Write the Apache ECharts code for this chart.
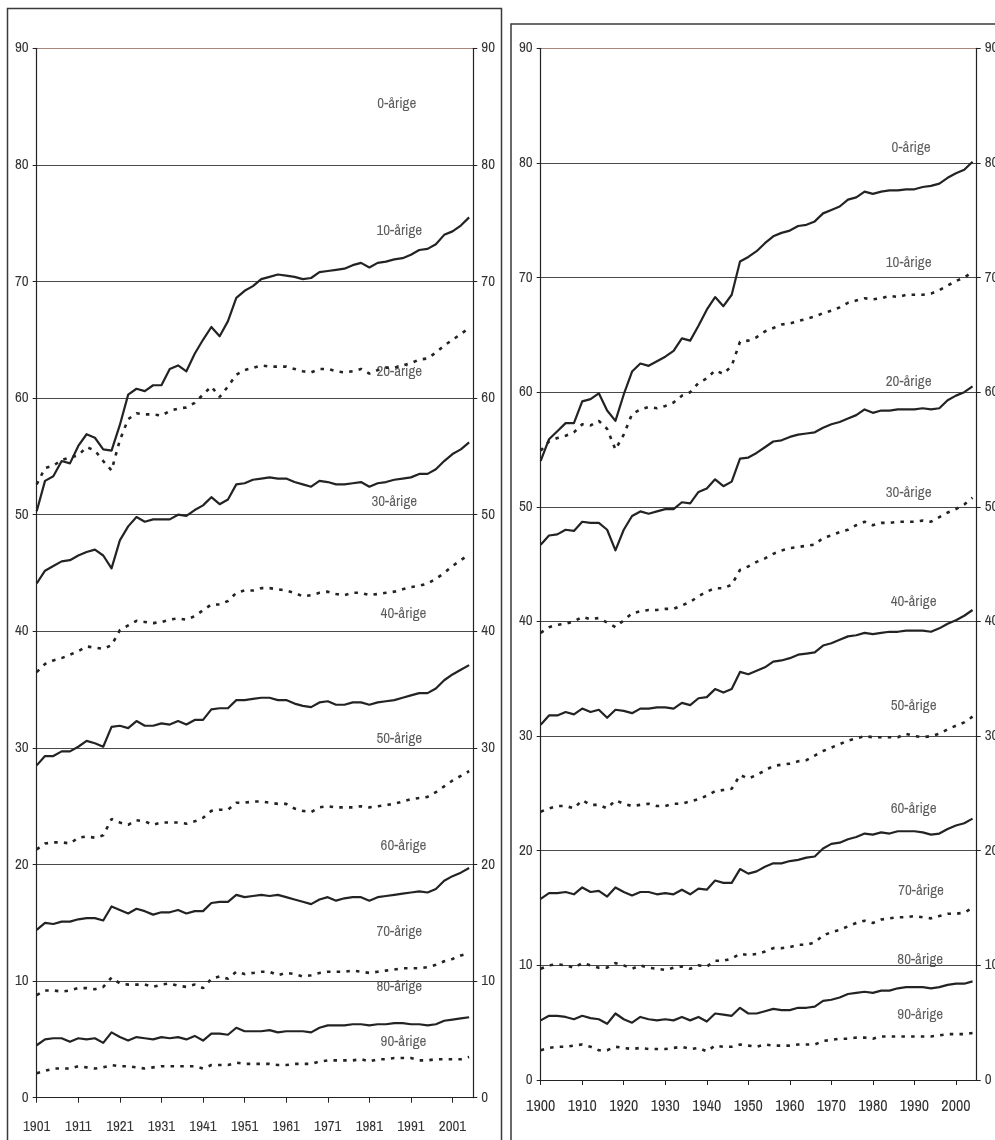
<!DOCTYPE html>
<html>
<head>
<meta charset="utf-8">
<title>Restlebensdauer</title>
<script src="https://cdn.jsdelivr.net/npm/echarts@6/dist/echarts.min.js"></script>
<style>
  html, body { margin: 0; padding: 0; background: #fff; }
  #chart { width: 995px; height: 1140px; }
</style>
</head>
<body>
<div id="chart"></div>
<script>
// ---- data: remaining life expectancy, sampled every second year ----
const ageLabels = ['0-årige', '10-årige', '20-årige', '30-årige', '40-årige',
                   '50-årige', '60-årige', '70-årige', '80-årige', '90-årige'];

// left panel
const yearsLeft = [1901,1903,1905,1907,1909,1911,1913,1915,1917,1919,1921,1923,1925,1927,1929,1931,1933,1935,
  1937,1939,1941,1943,1945,1947,1949,1951,1953,1955,1957,1959,1961,1963,1965,1967,1969,1971,1973,1975,
  1977,1979,1981,1983,1985,1987,1989,1991,1993,1995,1997,1999,2001,2003,2005];
const ticksLeft = [1901,1911,1921,1931,1941,1951,1961,1971,1981,1991,2001];

const leftAge0 = [50.3,52.9,53.3,54.6,54.4,55.9,56.9,56.6,55.6,55.5,57.7,60.3,60.8,60.6,61.1,61.1,62.5,62.8,
  62.3,63.8,65.0,66.1,65.3,66.6,68.6,69.2,69.6,70.2,70.4,70.6,70.5,70.4,70.2,70.3,70.8,70.9,71.0,71.1,
  71.4,71.6,71.2,71.6,71.7,71.9,72.0,72.3,72.7,72.8,73.2,74.0,74.3,74.8,75.5];
const leftAge10 = [52.6,54.0,54.2,54.7,54.9,55.1,55.8,55.5,54.6,53.8,56.4,58.2,58.7,58.6,58.6,58.5,58.9,59.1,
  59.2,59.6,60.3,61.0,60.1,61.0,62.0,62.4,62.6,62.8,62.7,62.7,62.7,62.5,62.3,62.2,62.5,62.5,62.3,62.2,
  62.3,62.5,62.1,62.4,62.6,62.6,62.8,63.0,63.3,63.4,63.9,64.5,65.0,65.5,66.0];
const leftAge20 = [44.1,45.2,45.6,46.0,46.1,46.5,46.8,47.0,46.5,45.4,47.8,49.0,49.8,49.4,49.6,49.6,49.6,50.0,
  49.9,50.4,50.8,51.5,50.9,51.3,52.6,52.7,53.0,53.1,53.2,53.1,53.1,52.8,52.6,52.4,52.9,52.8,52.6,52.6,
  52.7,52.8,52.4,52.7,52.8,53.0,53.1,53.2,53.5,53.5,53.9,54.6,55.2,55.6,56.2];
const leftAge30 = [36.5,37.2,37.5,37.7,38.0,38.3,38.7,38.6,38.5,38.8,40.1,40.5,40.9,40.8,40.7,40.8,41.0,41.1,
  41.0,41.3,41.8,42.3,42.3,42.6,43.3,43.5,43.5,43.7,43.7,43.6,43.5,43.3,43.0,43.1,43.3,43.4,43.2,43.1,
  43.3,43.3,43.1,43.2,43.3,43.4,43.6,43.8,43.9,44.1,44.5,45.0,45.6,46.1,46.6];
const leftAge40 = [28.5,29.3,29.3,29.7,29.7,30.1,30.6,30.4,30.1,31.8,31.9,31.7,32.3,31.9,31.9,32.1,32.0,32.3,
  32.0,32.4,32.4,33.3,33.4,33.4,34.1,34.1,34.2,34.3,34.3,34.1,34.1,33.8,33.6,33.5,33.9,34.0,33.7,33.7,
  33.9,33.9,33.7,33.9,34.0,34.1,34.3,34.5,34.7,34.7,35.1,35.8,36.3,36.7,37.1];
const leftAge50 = [21.3,21.8,21.9,21.9,21.8,22.3,22.4,22.3,22.5,23.9,23.6,23.4,23.8,23.7,23.4,23.6,23.6,23.6,
  23.5,23.7,24.0,24.6,24.7,24.7,25.3,25.3,25.4,25.4,25.3,25.2,25.2,24.8,24.6,24.5,24.9,25.0,24.9,24.9,
  24.9,25.0,24.9,25.0,25.1,25.2,25.4,25.6,25.7,25.8,26.2,26.7,27.2,27.6,28.0];
const leftAge60 = [14.4,15.0,14.9,15.1,15.1,15.3,15.4,15.4,15.2,16.4,16.1,15.8,16.2,16.0,15.7,15.9,15.9,16.1,
  15.8,16.0,16.0,16.7,16.8,16.8,17.4,17.2,17.3,17.4,17.3,17.4,17.2,17.0,16.8,16.6,17.0,17.2,16.9,17.1,
  17.2,17.2,16.9,17.2,17.3,17.4,17.5,17.6,17.7,17.6,17.9,18.6,19.0,19.3,19.7];
const leftAge70 = [8.8,9.2,9.2,9.1,9.2,9.4,9.4,9.3,9.5,10.3,9.8,9.7,9.7,9.7,9.5,9.7,9.8,9.6,
  9.5,9.7,9.4,10.2,10.4,10.2,10.8,10.6,10.7,10.8,10.8,10.5,10.7,10.6,10.4,10.5,10.7,10.8,10.8,10.8,
  10.9,10.8,10.7,10.8,10.9,11.0,11.1,11.1,11.1,11.2,11.4,11.7,11.9,12.2,12.4];
const leftAge80 = [4.5,5.0,5.1,5.1,4.8,5.1,5.0,5.1,4.7,5.6,5.2,4.9,5.2,5.1,5.0,5.2,5.1,5.2,
  5.0,5.3,4.9,5.5,5.5,5.4,6.0,5.7,5.7,5.7,5.8,5.6,5.7,5.7,5.7,5.6,6.0,6.2,6.2,6.2,
  6.3,6.3,6.2,6.3,6.3,6.4,6.4,6.3,6.3,6.2,6.3,6.6,6.7,6.8,6.9];
const leftAge90 = [2.1,2.3,2.5,2.5,2.5,2.7,2.6,2.5,2.6,2.8,2.7,2.7,2.6,2.5,2.6,2.7,2.7,2.7,
  2.7,2.7,2.5,2.8,2.8,2.8,3.0,2.9,2.9,2.9,2.9,2.8,2.8,2.9,2.9,2.9,3.1,3.2,3.2,3.2,
  3.2,3.3,3.1,3.3,3.3,3.4,3.4,3.4,3.2,3.2,3.3,3.3,3.3,3.3,3.5];

// right panel
const yearsRight = [1900,1902,1904,1906,1908,1910,1912,1914,1916,1918,1920,1922,1924,1926,1928,1930,1932,1934,
  1936,1938,1940,1942,1944,1946,1948,1950,1952,1954,1956,1958,1960,1962,1964,1966,1968,1970,1972,1974,
  1976,1978,1980,1982,1984,1986,1988,1990,1992,1994,1996,1998,2000,2002,2004];
const ticksRight = [1900,1910,1920,1930,1940,1950,1960,1970,1980,1990,2000];

const rightAge0 = [54.0,55.9,56.6,57.3,57.3,59.2,59.4,59.9,58.4,57.5,59.8,61.8,62.5,62.3,62.7,63.1,63.6,64.7,
  64.5,65.8,67.2,68.3,67.5,68.5,71.4,71.8,72.3,73.0,73.6,73.9,74.1,74.5,74.6,74.9,75.6,75.9,76.2,76.8,
  77.0,77.5,77.3,77.5,77.6,77.6,77.7,77.7,77.9,78.0,78.2,78.7,79.1,79.4,80.1];
const rightAge10 = [54.9,55.7,56.0,56.2,56.5,57.2,57.1,57.5,56.8,55.0,56.3,58.1,58.5,58.7,58.6,58.8,59.1,59.7,
  60.0,60.8,61.2,61.9,61.6,62.3,64.4,64.5,64.8,65.3,65.6,65.9,66.0,66.2,66.4,66.6,66.9,67.1,67.4,67.8,
  68.0,68.2,68.1,68.2,68.4,68.3,68.5,68.5,68.5,68.6,68.9,69.3,69.7,70.0,70.5];
const rightAge20 = [46.7,47.5,47.6,48.0,47.9,48.7,48.6,48.6,48.0,46.2,48.0,49.2,49.6,49.4,49.6,49.8,49.8,50.4,
  50.3,51.3,51.6,52.4,51.8,52.2,54.2,54.3,54.7,55.2,55.7,55.8,56.1,56.3,56.4,56.5,56.9,57.2,57.4,57.7,
  58.0,58.5,58.2,58.4,58.4,58.5,58.5,58.5,58.6,58.5,58.6,59.3,59.7,60.0,60.5];
const rightAge30 = [39.0,39.5,39.7,39.8,40.0,40.4,40.2,40.3,39.9,39.5,40.1,40.7,40.9,41.0,41.0,41.1,41.1,41.4,
  41.7,42.2,42.6,42.9,42.9,43.2,44.5,44.8,45.2,45.5,45.9,46.2,46.4,46.5,46.6,46.7,47.3,47.5,47.8,48.0,
  48.4,48.7,48.4,48.6,48.6,48.7,48.7,48.7,48.8,48.7,49.1,49.5,49.8,50.2,50.8];
const rightAge40 = [31.0,31.8,31.8,32.1,31.9,32.4,32.1,32.3,31.6,32.3,32.2,32.0,32.4,32.4,32.5,32.5,32.4,32.9,
  32.7,33.3,33.4,34.1,33.8,34.1,35.6,35.4,35.7,36.0,36.5,36.6,36.8,37.1,37.2,37.3,37.9,38.1,38.4,38.7,
  38.8,39.0,38.9,39.0,39.1,39.1,39.2,39.2,39.2,39.1,39.4,39.8,40.1,40.5,41.0];
const rightAge50 = [23.4,23.7,23.9,23.9,23.7,24.4,24.0,24.0,23.7,24.4,24.1,23.9,24.0,24.1,23.9,23.9,24.1,24.1,
  24.3,24.5,24.8,25.2,25.3,25.4,26.6,26.3,26.6,27.0,27.4,27.5,27.6,27.8,27.9,28.3,28.7,29.0,29.3,29.6,
  29.8,30.0,29.9,29.9,29.9,29.9,30.2,30.0,29.9,30.0,30.2,30.6,30.9,31.2,31.7];
const rightAge60 = [15.8,16.3,16.3,16.4,16.2,16.8,16.4,16.5,16.0,16.8,16.4,16.1,16.4,16.4,16.2,16.3,16.2,16.6,
  16.2,16.7,16.6,17.4,17.2,17.2,18.4,18.0,18.2,18.6,18.9,18.9,19.1,19.2,19.4,19.5,20.2,20.6,20.7,21.0,
  21.2,21.5,21.4,21.6,21.5,21.7,21.7,21.7,21.6,21.4,21.5,21.9,22.2,22.4,22.8];
const rightAge70 = [9.7,10.0,10.1,10.0,9.8,10.2,10.0,9.8,9.8,10.2,10.0,9.7,10.0,9.8,9.7,9.6,9.8,9.9,
  9.7,10.0,9.9,10.4,10.4,10.6,11.0,10.9,11.0,11.2,11.5,11.5,11.6,11.8,11.8,12.0,12.6,12.9,13.1,13.4,
  13.7,13.9,13.7,14.0,14.1,14.2,14.2,14.3,14.2,14.1,14.3,14.5,14.5,14.6,15.0];
const rightAge80 = [5.2,5.6,5.6,5.5,5.3,5.6,5.4,5.3,4.9,5.8,5.3,5.0,5.5,5.3,5.2,5.3,5.2,5.5,
  5.2,5.5,5.1,5.8,5.7,5.6,6.3,5.8,5.8,6.0,6.2,6.1,6.1,6.3,6.3,6.4,6.9,7.0,7.2,7.5,
  7.6,7.7,7.6,7.8,7.8,8.0,8.1,8.1,8.1,8.0,8.1,8.3,8.4,8.4,8.6];
const rightAge90 = [2.6,2.8,2.9,2.9,3.0,3.1,2.9,2.6,2.6,2.9,2.8,2.7,2.8,2.7,2.7,2.7,2.8,2.9,
  2.7,2.8,2.5,3.0,2.9,2.9,3.1,3.0,2.9,3.1,3.0,3.0,3.0,3.1,3.1,3.1,3.4,3.5,3.6,3.6,
  3.7,3.7,3.6,3.8,3.8,3.8,3.8,3.8,3.8,3.8,3.9,4.0,4.0,4.0,4.1];

const yTicks = [0, 10, 20, 30, 40, 50, 60, 70, 80, 90];

// ---- layout & style ----
const FONT = '"Archivo Narrow","PT Sans Narrow","Roboto Condensed","DejaVu Sans Condensed",sans-serif';
const TEXT = '#333';
const INK = '#232323';

// where each curve's caption sits (axis coordinates)
const captionSpotsLeft = [[1987.6, 85.2], [1988.2, 74.3], [1988.2, 62.2], [1987.0, 51.1], [1989.2, 41.5],
  [1988.2, 30.8], [1989.2, 21.6], [1988.2, 14.2], [1988.2, 9.5], [1989.2, 4.8]];
const captionSpotsRight = [[1989.2, 81.3], [1988.6, 71.3], [1988.6, 60.9], [1988.6, 51.2], [1989.8, 41.7],
  [1989.8, 32.6], [1989.8, 23.6], [1991.6, 16.5], [1991.4, 10.5], [1991.4, 5.7]];

const leftSeriesValues = [leftAge0, leftAge10, leftAge20, leftAge30, leftAge40,
  leftAge50, leftAge60, leftAge70, leftAge80, leftAge90];
const rightSeriesValues = [rightAge0, rightAge10, rightAge20, rightAge30, rightAge40,
  rightAge50, rightAge60, rightAge70, rightAge80, rightAge90];

// top grid line is tinted, the others are plain dark grey
const gridColors = yTicks.map(v => (v === 90 ? '#a8867c' : '#4a4a4a'));

function lineSeries(panel, name, years, values, dotted) {
  return {
    name: name,
    type: 'line',
    xAxisIndex: panel,
    yAxisIndex: panel * 2,
    data: years.map((y, i) => [y, values[i]]),
    symbol: 'none',
    showSymbol: false,
    silent: true,
    z: 3,
    lineStyle: dotted
      ? { color: INK, width: 2.6, type: [3.5, 6.2], cap: 'butt' }
      : { color: INK, width: 2.2, join: 'round' }
  };
}

function captionSeries(panel, spots) {
  return {
    type: 'scatter',
    xAxisIndex: panel,
    yAxisIndex: panel * 2,
    silent: true,
    z: 6,
    symbol: 'circle',
    symbolSize: 1,
    itemStyle: { color: 'rgba(0,0,0,0)' },
    data: ageLabels.map((t, i) => ({ name: t, value: spots[i] })),
    label: {
      show: true, position: 'inside', formatter: '{b}',
      fontFamily: FONT, fontSize: 15, color: TEXT
    }
  };
}

function xAxisFor(panel, min, max, ticks, margin, size) {
  return {
    gridIndex: panel, type: 'value', min: min, max: max, position: 'bottom',
    axisLine: { show: true, onZero: false, lineStyle: { color: '#222', width: 1.2 } },
    axisTick: { show: true, length: 5, customValues: ticks, lineStyle: { color: '#222', width: 1 } },
    axisLabel: { customValues: ticks, margin: margin, formatter: v => String(v),
                 fontFamily: FONT, fontSize: size, color: TEXT },
    splitLine: { show: false }
  };
}

function yAxisFor(panel, side) {
  return {
    gridIndex: panel, type: 'value', min: 0, max: 90, interval: 10, position: side,
    axisLine: { show: true, lineStyle: { color: '#222', width: 1.2 } },
    axisTick: { show: true, length: 4, lineStyle: { color: '#222', width: 1 } },
    axisLabel: { margin: 8, fontFamily: FONT, fontSize: 15, color: TEXT },
    splitLine: side === 'left'
      ? { show: true, lineStyle: { color: gridColors, width: 1 } }
      : { show: false }
  };
}

const series = [];
leftSeriesValues.forEach((vals, i) => series.push(lineSeries(0, ageLabels[i], yearsLeft, vals, i % 2 === 1)));
rightSeriesValues.forEach((vals, i) => series.push(lineSeries(1, ageLabels[i], yearsRight, vals, i % 2 === 1)));
series.push(captionSeries(0, captionSpotsLeft));
series.push(captionSeries(1, captionSpotsRight));

const chart = echarts.init(document.getElementById('chart'), null, { width: 995, height: 1140 });
chart.setOption({
  animation: false,
  backgroundColor: '#fff',
  grid: [
    // the right-hand value labels of the second panel run past the page edge, so keep the plot size fixed
    { left: 36.7, top: 48.3, width: 436.6, height: 1049.4, outerBoundsMode: 'none', containLabel: false },
    { left: 540.7, top: 48.3, width: 436, height: 1031.7, outerBoundsMode: 'none', containLabel: false }
  ],
  xAxis: [
    xAxisFor(0, 1901, 2006, ticksLeft, 22, 15),
    xAxisFor(1, 1900, 2005, ticksRight, 19, 16)
  ],
  yAxis: [
    yAxisFor(0, 'left'), yAxisFor(0, 'right'),
    yAxisFor(1, 'left'), yAxisFor(1, 'right')
  ],
  graphic: [
    { type: 'rect', silent: true, z: 0,
      shape: { x: 7.5, y: 8.5, width: 494, height: 1200 },
      style: { fill: null, stroke: '#3a3a3a', lineWidth: 1.5 } },
    { type: 'rect', silent: true, z: 0,
      shape: { x: 511, y: 24, width: 600, height: 1200 },
      style: { fill: null, stroke: '#3a3a3a', lineWidth: 1.5 } }
  ],
  series: series
});
</script>
</body>
</html>
